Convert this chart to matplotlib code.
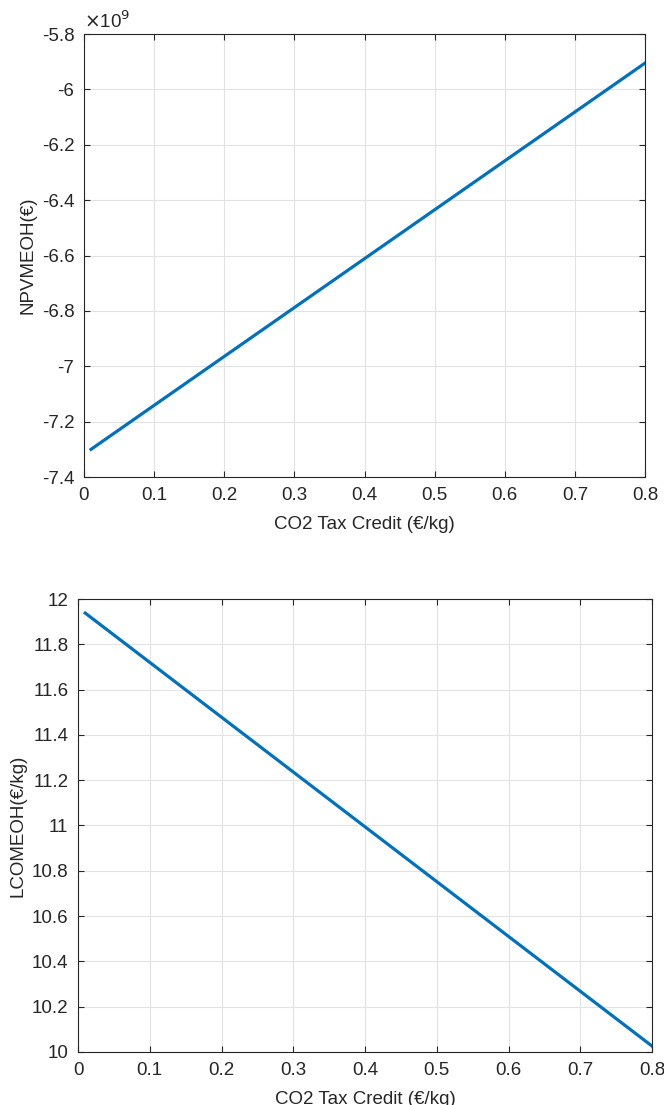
import numpy as np
import matplotlib
matplotlib.use('Agg')
import matplotlib.pyplot as plt
from matplotlib.ticker import FuncFormatter

plt.rcParams['font.family'] = ['Liberation Sans', 'DejaVu Sans']
plt.rcParams['axes.unicode_minus'] = False

# data
tax_credit = [0.01, 0.8]
npv_meoh = [-7.30e9, -5.905e9]
lcomeoh = [11.938, 10.026]

xticks = [0, 0.1, 0.2, 0.3, 0.4, 0.5, 0.6, 0.7, 0.8]
npv_ticks = [-7.4e9, -7.2e9, -7.0e9, -6.8e9, -6.6e9, -6.4e9, -6.2e9, -6.0e9, -5.8e9]
lco_ticks = [10, 10.2, 10.4, 10.6, 10.8, 11, 11.2, 11.4, 11.6, 11.8, 12]

blue = '#0072BD'
axcol = '#262626'
fs = 13.5

fig = plt.figure(figsize=(6.64, 11.05), dpi=100)
ax1 = fig.add_axes([0.1265, 0.5683, 0.8449, 0.4009])
ax2 = fig.add_axes([0.1175, 0.0480, 0.8645, 0.4099])


def style(ax):
    ax.grid(True, color='#e3e3e3', linewidth=0.8)
    ax.set_axisbelow(True)
    ax.tick_params(direction='in', top=True, right=True, length=4.5,
                   width=0.8, colors=axcol, labelsize=fs, pad=7)
    for s in ax.spines.values():
        s.set_color(axcol)
        s.set_linewidth(0.8)


ax1.plot(tax_credit, npv_meoh, color=blue, linewidth=2.3)
ax1.set_xlim(0, 0.8)
ax1.set_ylim(-7.4e9, -5.8e9)
ax1.set_xticks(xticks)
ax1.set_yticks(npv_ticks)
ax1.xaxis.set_major_formatter(FuncFormatter(lambda v, p: '%g' % round(v, 2)))
ax1.yaxis.set_major_formatter(FuncFormatter(lambda v, p: '%g' % round(v / 1e9, 2)))
ax1.text(0.0, 1.004, r'$\times$10$^{9}$', transform=ax1.transAxes,
         fontsize=fs, color=axcol, va='bottom', ha='left')
ax1.set_xlabel('CO2 Tax Credit (€/kg)', fontsize=fs, color=axcol, labelpad=9)
ax1.set_ylabel('NPVMEOH(€)', fontsize=fs, color=axcol, labelpad=4)
style(ax1)

ax2.plot(tax_credit, lcomeoh, color=blue, linewidth=2.3)
ax2.set_xlim(0, 0.8)
ax2.set_ylim(10, 12)
ax2.set_xticks(xticks)
ax2.set_yticks(lco_ticks)
ax2.xaxis.set_major_formatter(FuncFormatter(lambda v, p: '%g' % round(v, 2)))
ax2.yaxis.set_major_formatter(FuncFormatter(lambda v, p: '%g' % round(v, 2)))
ax2.set_xlabel('CO2 Tax Credit (€/kg)', fontsize=fs, color=axcol, labelpad=9)
ax2.set_ylabel('LCOMEOH(€/kg)', fontsize=fs, color=axcol, labelpad=4)
style(ax2)

fig.savefig('out.png', dpi=100)
